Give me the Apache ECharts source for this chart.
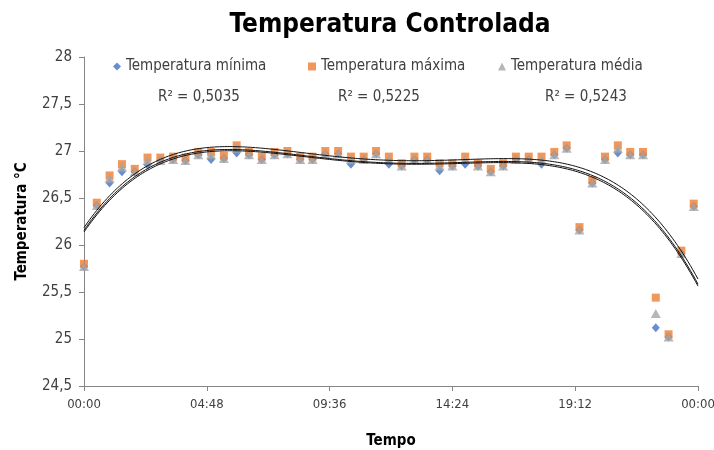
<!DOCTYPE html>
<html>
<head>
<meta charset="utf-8">
<script src="https://cdn.jsdelivr.net/npm/echarts@6/dist/echarts.min.js"></script>
<style>
  html, body { margin: 0; padding: 0; background: #fff; }
  #chart { width: 714px; height: 450px; }
</style>
</head>
<body>
<div id="chart"></div>
<script type="text/javascript">
// horários das leituras (~30 min)
var TIMES = ['00:00','00:30','01:00','01:29','01:59','02:29','02:59','03:29','03:58','04:28',
             '04:58','05:28','05:58','06:27','06:57','07:27','07:57','08:27','08:56','09:26',
             '09:56','10:26','10:56','11:25','11:55','12:25','12:55','13:25','13:54','14:24',
             '14:54','15:24','15:54','16:23','16:53','17:23','17:53','18:23','18:52','19:22',
             '19:52','20:22','20:52','21:21','21:51','22:21','22:51','23:21','23:50'];

var TEMP_MIN = [25.77,26.42,26.66,26.78,26.78,26.85,26.90,26.91,26.90,26.96,
                26.91,26.92,26.98,26.96,26.91,26.96,26.97,26.91,26.91,26.97,
                26.97,26.86,26.91,26.97,26.86,26.84,26.91,26.91,26.79,26.84,
                26.86,26.84,26.78,26.84,26.91,26.91,26.86,26.96,27.03,26.16,
                26.66,26.91,26.98,26.96,26.96,25.12,25.02,25.91,26.41];

var TEMP_MAX = [25.80,26.45,26.74,26.86,26.81,26.93,26.93,26.94,26.93,26.99,
                26.99,26.95,27.06,26.99,26.94,26.99,27.00,26.94,26.94,27.00,
                27.00,26.94,26.94,27.00,26.94,26.87,26.94,26.94,26.87,26.87,
                26.94,26.87,26.81,26.87,26.94,26.94,26.94,26.99,27.06,26.19,
                26.69,26.94,27.06,26.99,26.99,25.44,25.05,25.94,26.44];

var TEMP_MED = [25.77,26.42,26.71,26.83,26.78,26.90,26.90,26.91,26.90,26.96,
                26.96,26.92,27.03,26.96,26.91,26.96,26.97,26.91,26.91,26.97,
                26.97,26.91,26.91,26.97,26.91,26.84,26.91,26.91,26.84,26.84,
                26.91,26.84,26.78,26.84,26.91,26.91,26.91,26.96,27.03,26.16,
                26.66,26.91,27.03,26.96,26.96,25.27,25.02,25.91,26.41];

var R2_LABELS = ['R² = 0,5035', 'R² = 0,5225', 'R² = 0,5243'];

var FONT = '"Liberation Sans Narrow", "DejaVu Sans Condensed", sans-serif';

function toHours(s) {
    var p = s.split(':');
    return parseInt(p[0], 10) + parseInt(p[1], 10) / 60;
}
var hours = TIMES.map(toHours);

function pairs(vals) {
    return vals.map(function (v, i) { return [hours[i], v]; });
}

// tendência polinomial (ordem 4), mínimos quadrados
function polyFit(xs, ys, order) {
    var n = order + 1, A = [], b = [];
    for (var r = 0; r < n; r++) {
        A.push(new Array(n).fill(0));
        b.push(0);
    }
    xs.forEach(function (x, k) {
        var t = x / 24;
        for (var r = 0; r < n; r++) {
            for (var c = 0; c < n; c++) A[r][c] += Math.pow(t, r + c);
            b[r] += ys[k] * Math.pow(t, r);
        }
    });
    for (var i = 0; i < n; i++) {
        var p = i;
        for (var j = i + 1; j < n; j++) if (Math.abs(A[j][i]) > Math.abs(A[p][i])) p = j;
        var tmp = A[i]; A[i] = A[p]; A[p] = tmp;
        var tb = b[i]; b[i] = b[p]; b[p] = tb;
        for (var j = i + 1; j < n; j++) {
            var f = A[j][i] / A[i][i];
            for (var c = i; c < n; c++) A[j][c] -= f * A[i][c];
            b[j] -= f * b[i];
        }
    }
    var coef = new Array(n).fill(0);
    for (var i = n - 1; i >= 0; i--) {
        var s = b[i];
        for (var c = i + 1; c < n; c++) s -= A[i][c] * coef[c];
        coef[i] = s / A[i][i];
    }
    return function (x) {
        var t = x / 24, v = 0;
        for (var k = 0; k < n; k++) v += coef[k] * Math.pow(t, k);
        return v;
    };
}

function trend(vals) {
    var f = polyFit(hours, vals, 4), out = [];
    for (var k = 0; k <= 240; k++) {
        var x = k * 0.1;
        out.push([x, f(x)]);
    }
    return out;
}

function trendSeries(vals) {
    return {
        type: 'line',
        data: trend(vals),
        showSymbol: false,
        silent: true,
        z: 5,
        lineStyle: { color: '#111', width: 1 }
    };
}

var myChart = echarts.init(document.getElementById('chart'));
var option = {
    animation: false,
    backgroundColor: '#ffffff',
    textStyle: { fontFamily: FONT },
    title: {
        text: 'Temperatura Controlada',
        left: 385,
        top: 7,
        textAlign: 'center',
        textStyle: { fontFamily: FONT, fontSize: 26, fontWeight: 'bold', color: '#000' }
    },
    legend: [
        { data: ['Temperatura mínima'], left: 108, top: 54 },
        { data: ['Temperatura máxima'], left: 303, top: 54 },
        { data: ['Temperatura média'], left: 493, top: 54 }
    ].map(function (l) {
        l.itemWidth = 8;
        l.itemHeight = 8;
        l.itemGap = 4;
        l.textStyle = { fontFamily: FONT, fontSize: 15, color: '#404040' };
        return l;
    }),
    graphic: R2_LABELS.map(function (t, i) {
        return {
            type: 'text',
            left: [158, 338, 545][i],
            top: 90,
            style: { text: t, font: '15px ' + FONT, fill: '#404040' }
        };
    }),
    grid: { left: 84, right: 16, top: 57, bottom: 64, containLabel: false, outerBoundsMode: 'none' },
    xAxis: {
        type: 'value',
        min: 0,
        max: 24,
        interval: 4.8,
        name: 'Tempo',
        nameLocation: 'middle',
        nameGap: 48,
        nameTextStyle: { fontFamily: FONT, fontSize: 15, fontWeight: 'bold', color: '#000' },
        axisLine: { show: true, lineStyle: { color: '#868686' } },
        axisTick: { show: true, length: 5, lineStyle: { color: '#868686' } },
        axisLabel: {
            fontFamily: FONT, fontSize: 13, color: '#404040', margin: 12,
            formatter: function (v) {
                var m = Math.round(v * 60) % 1440;
                var h = Math.floor(m / 60), mm = m % 60;
                return (h < 10 ? '0' : '') + h + ':' + (mm < 10 ? '0' : '') + mm;
            }
        },
        splitLine: { show: false }
    },
    yAxis: {
        type: 'value',
        min: 24.5,
        max: 28,
        interval: 0.5,
        name: 'Temperatura °C',
        nameLocation: 'middle',
        nameGap: 54,
        nameTextStyle: { fontFamily: FONT, fontSize: 15, fontWeight: 'bold', color: '#000' },
        axisLine: { show: true, lineStyle: { color: '#868686' } },
        axisTick: { show: true, length: 5, lineStyle: { color: '#868686' } },
        axisLabel: {
            fontFamily: FONT, fontSize: 15, color: '#404040', margin: 12,
            formatter: function (v) { return String(+v.toFixed(1)).replace('.', ','); }
        },
        splitLine: { show: false }
    },
    series: [
        {
            name: 'Temperatura mínima',
            type: 'scatter',
            symbol: 'diamond',
            symbolSize: [8, 9],
            itemStyle: { color: '#4472C4' },
            data: pairs(TEMP_MIN)
        },
        {
            name: 'Temperatura máxima',
            type: 'scatter',
            symbol: 'rect',
            symbolSize: 8,
            itemStyle: { color: '#ED7D31' },
            data: pairs(TEMP_MAX)
        },
        {
            name: 'Temperatura média',
            type: 'scatter',
            symbol: 'triangle',
            symbolSize: [10, 9],
            itemStyle: { color: '#A5A5A5' },
            data: pairs(TEMP_MED)
        },
        trendSeries(TEMP_MIN),
        trendSeries(TEMP_MAX),
        trendSeries(TEMP_MED)
    ]
};
myChart.setOption(option);
window.addEventListener('resize', function () {
    myChart.resize();
});
</script>
</body>
</html>
